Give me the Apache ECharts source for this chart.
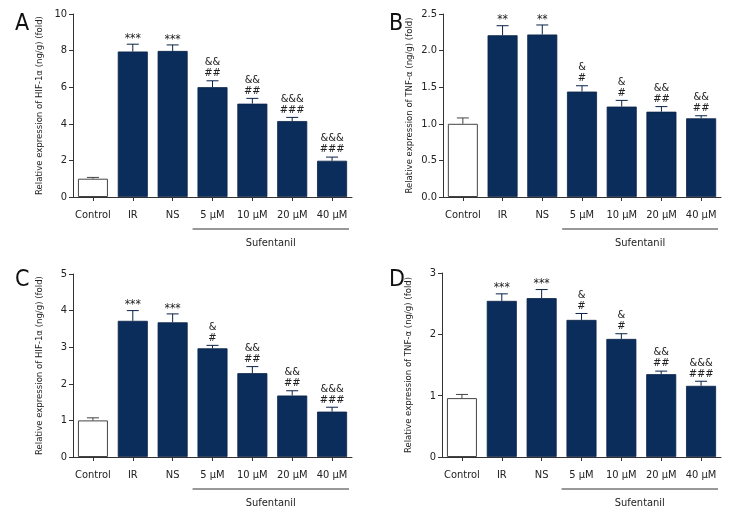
<!DOCTYPE html>
<html>
<head>
<meta charset="utf-8">
<script src="https://cdn.jsdelivr.net/npm/echarts@6/dist/echarts.min.js"></script>
<style>
html,body{margin:0;padding:0;background:#fff;}
#chart{width:756px;height:516px;}
</style>
</head>
<body>
<div id="chart"></div>
<script>
// ---- data ----
const categories = ['Control', 'IR', 'NS', '5 μM', '10 μM', '20 μM', '40 μM'];

const hifA = [1.0, 7.95, 7.98, 6.0, 5.1, 4.15, 1.98];
const errA = [0.07, 0.40, 0.33, 0.35, 0.29, 0.20, 0.20];
const sigA = ['', '***', '***', '&&\n##', '&&\n##', '&&&\n###', '&&&\n###'];

const tnfB = [1.0, 2.21, 2.22, 1.44, 1.235, 1.165, 1.075];
const errB = [0.08, 0.13, 0.13, 0.08, 0.085, 0.07, 0.035];
const sigB = ['', '**', '**', '&\n#', '&\n#', '&&\n##', '&&\n##'];

const hifC = [1.0, 3.72, 3.68, 2.97, 2.29, 1.68, 1.24];
const errC = [0.07, 0.28, 0.23, 0.08, 0.18, 0.13, 0.12];
const sigC = ['', '***', '***', '&\n#', '&&\n##', '&&\n##', '&&&\n###'];

const tnfD = [0.96, 2.545, 2.59, 2.235, 1.925, 1.35, 1.16];
const errD = [0.06, 0.115, 0.14, 0.105, 0.085, 0.05, 0.075];
const sigD = ['', '***', '***', '&\n#', '&\n#', '&&\n##', '&&&\n###'];

const yTitleHIF = 'Relative expression of HIF-1α (ng/g) (fold)';
const yTitleTNF = 'Relative expression of TNF-α (ng/g) (fold)';
const groupLabel = 'Sufentanil';
const panelLetters = ['A', 'B', 'C', 'D'];

const panels = [
  {vals: hifA, errs: errA, sig: sigA, max: 10, interval: 2, title: yTitleHIF, fmt: v => String(v)},
  {vals: tnfB, errs: errB, sig: sigB, max: 2.5, interval: 0.5, title: yTitleTNF, fmt: v => v.toFixed(1)},
  {vals: hifC, errs: errC, sig: sigC, max: 5, interval: 1, title: yTitleHIF, fmt: v => String(v)},
  {vals: tnfD, errs: errD, sig: sigD, max: 3, interval: 1, title: yTitleTNF, fmt: v => String(v)}
];

// ---- layout/style ----
const FONT = "'Liberation Sans Narrow', 'DejaVu Sans Condensed', 'Liberation Sans', sans-serif";
const NAVY = '#0b2d5b';
const AXIS = '#333333';
const grids = [
  {left: 73, top: 14, width: 279, height: 183},
  {left: 443, top: 14, width: 278, height: 183},
  {left: 73, top: 274, width: 279, height: 183},
  {left: 442, top: 273, width: 279, height: 184}
];
const letterPos = [[10, 8], [384, 8], [10, 264], [384, 264]];

const option = {
  animation: false,
  backgroundColor: '#fff',
  textStyle: {fontFamily: FONT},
  title: panelLetters.map((t, i) => ({
    text: t, left: letterPos[i][0], top: letterPos[i][1],
    textStyle: {fontFamily: FONT, fontSize: 23, fontWeight: 'normal', color: '#111'}
  })),
  grid: grids,
  xAxis: panels.map((p, i) => ({
    type: 'category', gridIndex: i, data: categories,
    axisLine: {lineStyle: {color: AXIS, width: 1}},
    axisTick: {show: true, alignWithLabel: true, length: 4, lineStyle: {color: AXIS}},
    axisLabel: {color: '#222', fontSize: 11, fontFamily: FONT, margin: 13, interval: 0}
  })),
  yAxis: panels.map((p, i) => ({
    type: 'value', gridIndex: i, min: 0, max: p.max, interval: p.interval,
    name: p.title, nameLocation: 'middle', nameGap: 28,
    nameTextStyle: {color: '#222', fontSize: 9.5, fontFamily: FONT},
    splitLine: {show: false},
    axisLine: {show: true, lineStyle: {color: AXIS, width: 1}},
    axisTick: {show: true, length: 4, lineStyle: {color: AXIS}},
    axisLabel: {color: '#222', fontSize: 11, fontFamily: FONT, margin: 6, formatter: p.fmt}
  })),
  series: []
};

panels.forEach((p, i) => {
  option.series.push({
    type: 'bar', xAxisIndex: i, yAxisIndex: i, barWidth: 30,
    data: p.vals.map((v, k) => ({
      value: v,
      itemStyle: k === 0
        ? {color: '#ffffff', borderColor: '#444', borderWidth: 1}
        : {color: NAVY, borderColor: '#0a2347', borderWidth: 0.8}
    }))
  });
  // error bars + significance labels
  option.series.push({
    type: 'custom', xAxisIndex: i, yAxisIndex: i, clip: false, z: 5,
    data: p.vals.map((v, k) => [k, v, p.errs[k]]),
    renderItem: function (params, api) {
      const x = api.value(0), v = api.value(1), e = api.value(2);
      const base = api.coord([x, v]);
      const top = api.coord([x, v + e]);
      const idx = params.dataIndex;
      const col = idx === 0 ? '#444' : '#0a2347';
      const hw = 6;
      const children = [
        {type: 'line', shape: {x1: top[0], y1: base[1], x2: top[0], y2: top[1]}, style: {stroke: col, lineWidth: 1}},
        {type: 'line', shape: {x1: top[0] - hw, y1: top[1], x2: top[0] + hw, y2: top[1]}, style: {stroke: col, lineWidth: 1}}
      ];
      const s = p.sig[idx];
      if (s) {
        const isStar = s.indexOf('*') >= 0;
        children.push({
          type: 'text',
          style: {
            text: s, x: top[0], y: top[1] - (isStar ? 0 : 2),
            align: 'center', verticalAlign: 'bottom',
            fontFamily: FONT, fontSize: isStar ? 12 : 11, lineHeight: 11,
            fill: '#222'
          }
        });
      }
      return {type: 'group', children: children};
    }
  });
  // Sufentanil bracket
  option.series.push({
    type: 'custom', xAxisIndex: i, yAxisIndex: i, clip: false, silent: true,
    data: [[3, 6]],
    renderItem: function (params, api) {
      const a = api.coord([api.value(0), 0]);
      const b = api.coord([api.value(1), 0]);
      const bw = api.size([1, 0])[0];
      const x1 = a[0] - bw / 2, x2 = b[0] + bw / 2 - 3;
      return {
        type: 'group',
        children: [
          {type: 'line', shape: {x1: x1, y1: a[1] + 32, x2: x2, y2: a[1] + 32}, style: {stroke: '#333', lineWidth: 1}},
          {type: 'text', style: {text: groupLabel, x: (x1 + x2) / 2, y: a[1] + 46, align: 'center', verticalAlign: 'middle', fontFamily: FONT, fontSize: 11, fill: '#222'}}
        ]
      };
    }
  });
});

const chart = echarts.init(document.getElementById('chart'), null, {renderer: 'canvas'});
chart.setOption(option);
</script>
</body>
</html>
